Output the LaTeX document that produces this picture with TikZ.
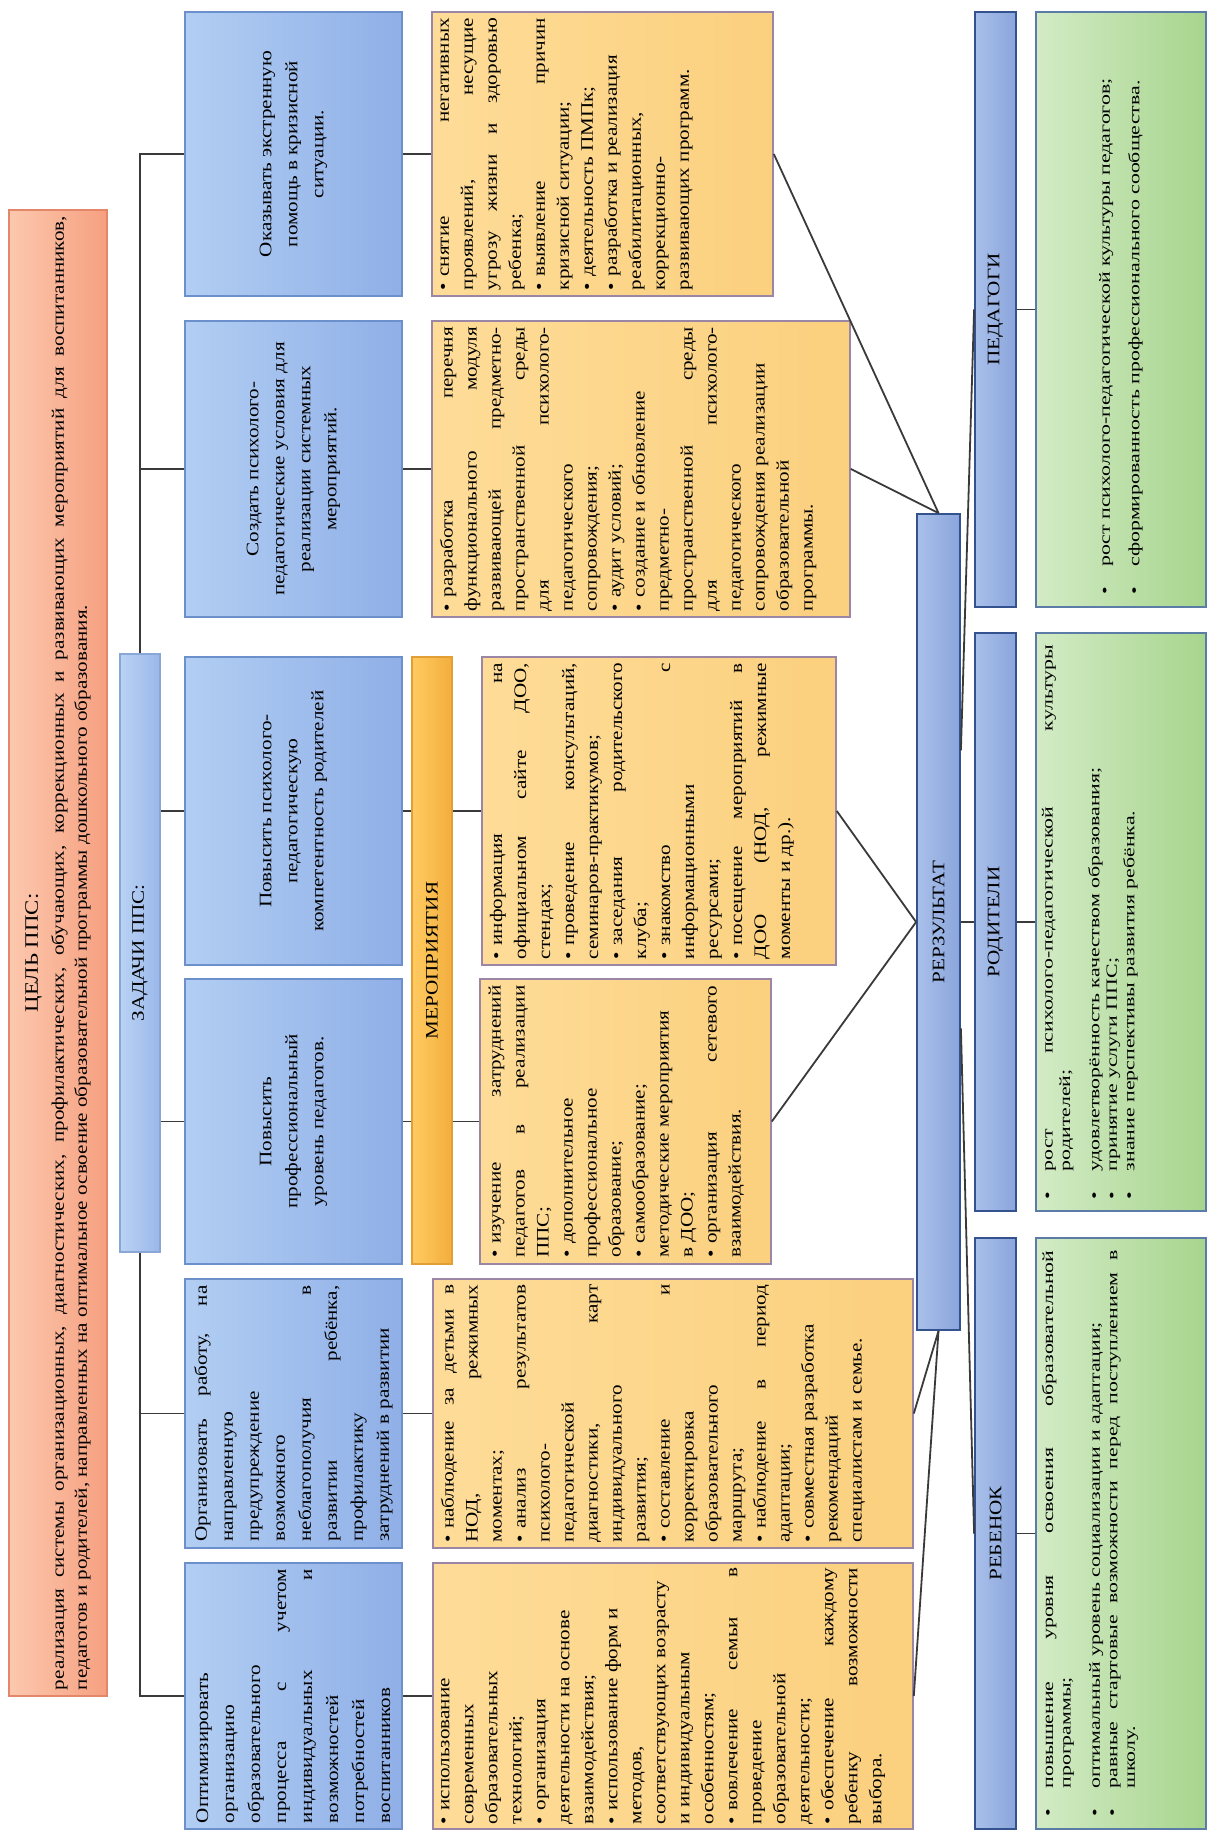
\documentclass[tikz,border=0pt]{standalone}
\usepackage{fontspec}
\setmainfont{Liberation Serif}[FakeStretch=1.2]
\newfontfamily\effont{Liberation Serif}[FakeStretch=1.4]
\usepackage{graphicx}
\usetikzlibrary{calc}
\definecolor{goalA}{HTML}{FCC8AE}
\definecolor{goalB}{HTML}{F6A080}
\definecolor{goalL}{HTML}{E3866A}
\definecolor{taskA}{HTML}{B2CEF3}
\definecolor{taskB}{HTML}{8FAFE7}
\definecolor{taskL}{HTML}{6C90CC}
\definecolor{evA}{HTML}{FEDC98}
\definecolor{evB}{HTML}{FBD07E}
\definecolor{evL}{HTML}{9C86A6}
\definecolor{merA}{HTML}{FFCB62}
\definecolor{merB}{HTML}{F3AE3C}
\definecolor{merL}{HTML}{E39E35}
\definecolor{resA}{HTML}{A9C0EA}
\definecolor{resB}{HTML}{8AA5DC}
\definecolor{resL}{HTML}{34538E}
\definecolor{effA}{HTML}{D3EBC6}
\definecolor{effB}{HTML}{A7D58D}
\definecolor{effL}{HTML}{5A7CA6}
\definecolor{conline}{HTML}{3A3A3A}
\tikzset{%
    every node/.style={inner sep=0pt,font=\fontsize{8.8}{12}\selectfont},
    goalbox/.style={draw=goalL,line width=0.8pt,left color=goalA,right color=goalB,
        minimum width=49pt,minimum height=743pt,font=\fontsize{8.8}{11.5}\selectfont},
    zadbox/.style={draw=taskL!80,line width=0.8pt,left color=taskA!90!white,right color=taskB!90!white,
        minimum width=20pt,minimum height=299pt},
    taskbox/.style={draw=taskL,line width=0.8pt,left color=taskA,right color=taskB,
        minimum width=108.5pt,font=\fontsize{8.8}{13}\selectfont},
    evbox/.style={draw=evL,line width=0.8pt,left color=evA,right color=evB},
    merbox/.style={draw=merL,line width=0.8pt,left color=merA,right color=merB,
        minimum width=20pt,minimum height=303.5pt},
    resbox/.style={draw=resL,line width=0.9pt,left color=resA,right color=resB},
    headbox/.style={resbox,minimum width=20.5pt},
    effbox/.style={draw=effL,line width=0.9pt,left color=effA,right color=effB,
        minimum width=85pt,font=\effont\fontsize{7.8}{8.7}\selectfont},
    con/.style={draw=conline,line width=0.9pt}
}
\tolerance=9999
\hbadness=10000
\hfuzz=6pt
\newcommand{\vt}[4]{\rotatebox{90}{\begin{minipage}[c][#2][#3]{#1}#4\end{minipage}}}
\newcommand{\evb}{\textbullet\hspace{0.35em}}
\newcommand{\effitem}[1]{\par\noindent\hangindent=14pt\hangafter=1\makebox[14pt][l]{\textbullet}#1\par}

\begin{document}
\begin{tikzpicture}[x=0.5pt,y=-0.5pt]
\useasboundingbox[fill=white] (0,0) rectangle (1208,1831);
%% goal and tasks
\node [goalbox] (goal) at (58,953) {\vt{737pt}{43pt}{c}{{\centering\fontsize{9.5}{13}\selectfont ЦЕЛЬ ППС:\par}\vspace{1.5pt}
реализация системы организационных, диагностических, профилактических, обучающих, коррекционных и развивающих мероприятий для воспитанников,\linebreak
педагогов и родителей, направленных на оптимальное освоение образовательной программы дошкольного образования.}};
\node [zadbox] (zad) at (140,953) {\rotatebox{90}{ЗАДАЧИ ППС:}};
\node [taskbox,minimum height=142pt] (t1) at (293.5,154) {\vt{136pt}{100pt}{c}{\centering
    Оказывать экстренную\\ помощь в кризисной\\ ситуации.}};
\node [taskbox,minimum height=148pt] (t2) at (293.5,469) {\vt{143pt}{100pt}{c}{\centering
    Создать психолого-\\ педагогические условия для\\ реализации системных\\ мероприятий.}};
\node [taskbox,minimum height=154pt] (t3) at (293.5,811) {\vt{146pt}{100pt}{c}{\centering
    Повысить психолого-\\ педагогическую\\ компетентность родителей}};
\node [taskbox,minimum height=142.5pt] (t4) at (293.5,1121.5) {\vt{136pt}{100pt}{c}{\centering
    Повысить\\ профессиональный\\ уровень педагогов.}};
\node [taskbox,minimum height=134.5pt] (t5) at (293.5,1413.5) {\vt{128pt}{102pt}{c}{%
    Организовать работу, на\linebreak направленную\\ предупреждение\\ возможного\\
    неблагополучия в\linebreak развитии ребёнка,\linebreak профилактику\\ затруднений в развитии}};
\node [taskbox,minimum height=133pt] (t6) at (293.5,1696) {\vt{127pt}{102pt}{c}{%
    Оптимизировать\\ организацию\\ образовательного\\ процесса с учетом\linebreak
    индивидуальных и\linebreak возможностей\\ потребностей\\ воспитанников}};
%% events
\node [merbox] (mer) at (432,960.5) {\rotatebox{90}{МЕРОПРИЯТИЯ}};
\node [evbox,minimum width=170.5pt,minimum height=142pt] (y1) at (602.5,154) {\vt{136pt}{162pt}{t}{%
    \evb снятие негативных\linebreak проявлений, несущие\linebreak угрозу жизни и здоровью\linebreak ребенка;\par
    \evb выявление причин\linebreak кризисной ситуации;\par
    \evb деятельность ПМПк;\par
    \evb разработка и реализация\\ реабилитационных,\\ коррекционно-\\ развивающих программ.}};
\node [evbox,minimum width=209pt,minimum height=148pt] (y2) at (641,469) {\vt{142pt}{201pt}{t}{%
    \evb разработка перечня\linebreak функционального модуля\linebreak развивающей предметно-\linebreak
    пространственной среды\linebreak для психолого-\linebreak педагогического\\ сопровождения;\par
    \evb аудит условий;\par
    \evb создание и обновление\\ предметно-\\ пространственной среды\linebreak для психолого-\linebreak
    педагогического\\ сопровождения реализации\\ образовательной\\ программы.}};
\node [evbox,minimum width=177pt,minimum height=154pt] (y3) at (659,811) {\vt{148pt}{169pt}{t}{%
    \evb информация на\linebreak официальном сайте ДОО,\linebreak стендах;\par
    \evb проведение консультаций,\linebreak семинаров-практикумов;\par
    \evb заседания родительского\linebreak клуба;\par
    \evb знакомство с\linebreak информационными\\ ресурсами;\par
    \evb посещение мероприятий в\linebreak ДОО (НОД, режимные\linebreak моменты и др.).}};
\node [evbox,minimum width=145.5pt,minimum height=142.5pt] (y4) at (625.5,1121.5) {\vt{136pt}{137pt}{t}{%
    \evb изучение затруднений\linebreak педагогов в реализации\linebreak ППС;\par
    \evb дополнительное\\ профессиональное\\ образование;\par
    \evb самообразование;\\ методические мероприятия\\ в ДОО;\par
    \evb организация сетевого\linebreak взаимодействия.}};
\node [evbox,minimum width=240pt,minimum height=134.5pt] (y5) at (673,1413.5) {\vt{129pt}{232pt}{t}{%
    \evb наблюдение за детьми в\linebreak НОД, режимных\linebreak моментах;\par
    \evb анализ результатов\linebreak психолого-\\ педагогической\\ диагностики, карт\linebreak индивидуального\\ развития;\par
    \evb составление и\linebreak корректировка\\ образовательного\\ маршрута;\par
    \evb наблюдение в период\linebreak адаптации;\par
    \evb совместная разработка\\ рекомендаций\\ специалистам и семье.}};
\node [evbox,minimum width=240pt,minimum height=133pt] (y6) at (673,1696) {\vt{128pt}{232pt}{t}{%
    \evb использование\\ современных\\ образовательных\\ технологий;\par
    \evb организация\\ деятельности на основе\\ взаимодействия;\par
    \evb использование форм и\\ методов,\\ соответствующих возрасту\\ и индивидуальным\\ особенностям;\par
    \evb вовлечение семьи в\linebreak проведение\\ образовательной\\ деятельности;\par
    \evb обеспечение каждому\linebreak ребенку возможности\linebreak выбора.}};
%% results
\node [resbox,minimum width=21.5pt,minimum height=408pt] (rez) at (938.5,922) {\rotatebox{90}{РЕРЗУЛЬТАТ}};
\node [headbox,minimum height=297.5pt] (hp) at (995.5,309.5) {\rotatebox{90}{ПЕДАГОГИ}};
\node [headbox,minimum height=289pt] (hr) at (995.5,922) {\rotatebox{90}{РОДИТЕЛИ}};
\node [headbox,minimum height=295.5pt] (hc) at (995.5,1533.5) {\rotatebox{90}{РЕБЕНОК}};
\node [effbox,minimum height=297.5pt] (gp) at (1121,309.5) {\vt{285pt}{77pt}{c}{%
    \effitem{рост психолого-педагогической культуры педагогов;}\vspace{6pt}
    \effitem{сформированность профессионального сообщества.}}};
\node [effbox,minimum height=289pt] (gr) at (1121,922) {\vt{277pt}{79pt}{t}{%
    \effitem{рост психолого-педагогической культуры\linebreak родителей;}\vspace{6pt}
    \effitem{удовлетворённость качеством образования;}
    \effitem{принятие услуги ППС;}
    \effitem{знание перспективы развития ребёнка.}}};
\node [effbox,minimum height=295.5pt] (gc) at (1121,1533.5) {\vt{283pt}{79pt}{t}{%
    \effitem{повышение уровня освоения образовательной\linebreak программы;}\vspace{6pt}
    \effitem{оптимальный уровень социализации и адаптации;}
    \effitem{равные стартовые возможности перед поступлением в\linebreak школу.}}};
%% connectors
\draw [con] (t1.west) -| (zad.north);
\draw [con] (t2.west) -| (zad.north);
\draw [con] (t3.west) -- (t3.west -| zad.east);
\draw [con] (t4.west) -- (t4.west -| zad.east);
\draw [con] (t5.west) -| (zad.south);
\draw [con] (t6.west) -| (zad.south);
\path [con] (t1) edge (y1)
    (t2) edge (y2)
    (t5) edge (y5)
    (t6) edge (y6);
\draw [con] (t3.east) -- (t3.east -| mer.west);
\draw [con] (t4.east) -- (t4.east -| mer.west);
\draw [con] (y3.west -| mer.east) -- (y3.west);
\draw [con] (y4.west -| mer.east) -- (y4.west);
\path [con] (y1.east) edge (rez.north)
    (y2.east) edge (rez.north)
    (y3.east) edge (rez.west)
    (y4.east) edge (rez.west)
    (y5.east) edge (rez.south)
    (y6.east) edge (rez.south);
\draw [con] ($(rez.north east)!0.29!(rez.south east)$) -- (hp.west);
\draw [con] (rez.east) -- (hr.west);
\draw [con] ($(rez.north east)!0.63!(rez.south east)$) -- (hc.west);
\path [con] (hp) edge (gp)
    (hr) edge (gr)
    (hc) edge (gc);
\end{tikzpicture}
\end{document}
